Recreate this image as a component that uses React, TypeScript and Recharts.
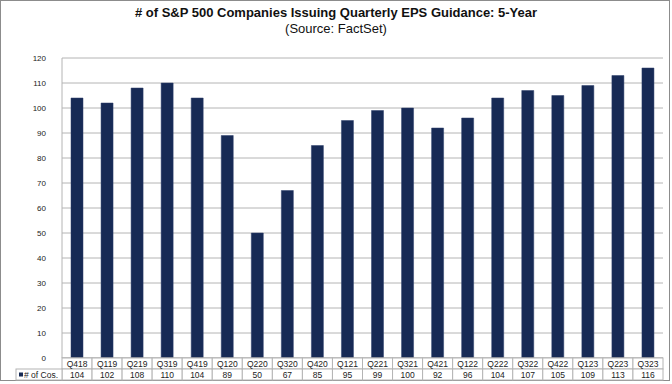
import React from 'react';
import { BarChart, Bar, XAxis, YAxis, CartesianGrid } from 'recharts';

const quarters = [
  'Q418', 'Q119', 'Q219', 'Q319', 'Q419', 'Q120', 'Q220', 'Q320', 'Q420',
  'Q121', 'Q221', 'Q321', 'Q421', 'Q122', 'Q222', 'Q322', 'Q422', 'Q123', 'Q223', 'Q323',
];

// # of companies issuing quarterly EPS guidance
const companies = [104, 102, 108, 110, 104, 89, 50, 67, 85, 95, 99, 100, 92, 96, 104, 107, 105, 109, 113, 116];

const yTicks = [0, 10, 20, 30, 40, 50, 60, 70, 80, 90, 100, 110, 120];

const seriesName = '# of Cos.';

const NAVY = '#172a55';
const GRID = '#b4b4b4';
const FONT = 'Arial, "Liberation Sans", Helvetica, sans-serif';

const data = quarters.map((q, i) => ({ q, value: companies[i] }));

const PLOT_LEFT = 62;
const PLOT_RIGHT = 663;
const BAND = (PLOT_RIGHT - PLOT_LEFT) / data.length;
const ROW_H = 11;

const TableTick = (props: any) => {
  const { x, y, payload, index } = props;
  const left = x - BAND / 2;
  const val = data[index] ? data[index].value : '';
  return (
    <g>
      <rect x={left} y={y} width={BAND} height={ROW_H} fill="#fff" stroke={GRID} strokeWidth={1} />
      <rect x={left} y={y + ROW_H} width={BAND} height={ROW_H} fill="#fff" stroke={GRID} strokeWidth={1} />
      <text x={x} y={y + 8.5} textAnchor="middle" fontSize={8.5} fill="#222" fontFamily={FONT}>
        {payload.value}
      </text>
      <text x={x} y={y + ROW_H + 8.5} textAnchor="middle" fontSize={8.5} fill="#222" fontFamily={FONT}>
        {val}
      </text>
      {index === 0 && (
        <g>
          <rect x={16} y={y + ROW_H} width={left - 16} height={ROW_H} fill="#fff" stroke={GRID} strokeWidth={1} />
          <rect x={19} y={y + ROW_H + 3.5} width={4} height={4} fill={NAVY} />
          <text x={24} y={y + ROW_H + 8.5} fontSize={8.5} fill="#222" fontFamily={FONT}>
            {seriesName}
          </text>
        </g>
      )}
    </g>
  );
};

const App: React.FC = () => {
  return (
    <div
      style={{
        position: 'absolute',
        left: 0,
        top: 0,
        width: 672,
        height: 384,
        background: '#fff',
        fontFamily: FONT,
      }}
    >
      <div
        style={{
          position: 'absolute',
          left: 0,
          top: 0,
          width: 668,
          height: 379,
          border: '1.5px solid #8c8c8c',
        }}
      />
      <div
        style={{
          position: 'absolute',
          left: 0,
          top: 5,
          width: 672,
          textAlign: 'center',
          fontSize: 13,
          fontWeight: 'bold',
          color: '#111',
        }}
      >
        # of S&amp;P 500 Companies Issuing Quarterly EPS Guidance: 5-Year
      </div>
      <div
        style={{
          position: 'absolute',
          left: 0,
          top: 21,
          width: 672,
          textAlign: 'center',
          fontSize: 13,
          color: '#111',
        }}
      >
        (Source: FactSet)
      </div>
      <div style={{ position: 'absolute', left: 0, top: 0 }}>
        <BarChart
          width={672}
          height={384}
          data={data}
          margin={{ top: 58, right: 672 - PLOT_RIGHT, bottom: 4, left: PLOT_LEFT - 40 }}
          barSize={12}
        >
          <CartesianGrid vertical={false} stroke={GRID} strokeWidth={1} />
          <XAxis
            dataKey="q"
            interval={0}
            tickLine={false}
            tickSize={0}
            tickMargin={0}
            height={22}
            axisLine={{ stroke: GRID }}
            tick={<TableTick />}
          />
          <YAxis
            width={40}
            domain={[0, 120]}
            ticks={yTicks}
            interval={0}
            tickLine={false}
            tickMargin={10}
            axisLine={{ stroke: GRID }}
            tick={{ fontSize: 8, fill: '#222', fontFamily: FONT }}
          />
          <Bar dataKey="value" fill={NAVY} stroke="#2c3f6a" strokeWidth={0.5} isAnimationActive={false} />
        </BarChart>
      </div>
    </div>
  );
};

export default App;
